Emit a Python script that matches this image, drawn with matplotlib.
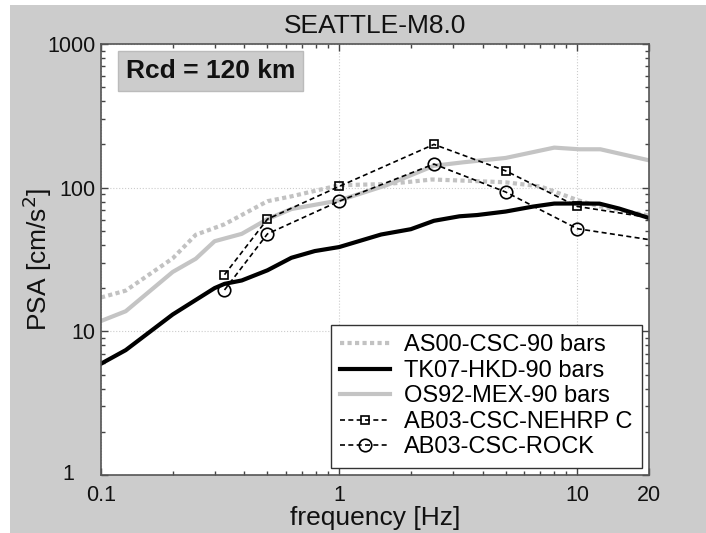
import matplotlib
matplotlib.use("Agg")
import matplotlib.pyplot as plt
from matplotlib.patches import Rectangle
from matplotlib.ticker import LogLocator, NullFormatter, FixedLocator, FixedFormatter

plt.rcParams['font.family'] = ['Liberation Sans', 'DejaVu Sans']

# AS00-CSC-90 bars (dotted light gray)
as00_f = [0.1, 0.127, 0.2, 0.25, 0.33, 0.5, 0.63, 1.0, 1.58, 2.0, 2.45, 3.3, 5.0, 7.0, 10.0, 12.0, 20.0]
as00_v = [17.2, 19.2, 32.2, 47.0, 55.6, 80.5, 87.0, 104, 106, 110, 114, 112, 109, 102, 82, 75, 64]

# TK07-HKD-90 bars (thick black)
tk07_f = [0.1, 0.127, 0.2, 0.3, 0.33, 0.39, 0.5, 0.63, 0.79, 1.0, 1.5, 2.0, 2.5, 3.2, 3.8, 5.0, 6.5, 8.0, 10.0, 12.4, 15.0, 20.0]
tk07_v = [5.95, 7.4, 13.1, 20.0, 21.4, 22.6, 26.6, 32.5, 36.2, 38.6, 47.2, 51.4, 58.8, 63.2, 64.5, 68.2, 73.8, 77.5, 77.6, 77.4, 71.5, 61.5]

# OS92-MEX-90 bars (solid light gray)
os92_f = [0.1, 0.127, 0.2, 0.25, 0.3, 0.39, 0.5, 0.63, 1.0, 1.58, 2.5, 3.3, 5.0, 8.0, 10.2, 12.5, 20.0]
os92_v = [11.8, 13.8, 25.9, 32.0, 42.4, 47.7, 60.4, 71.0, 81.5, 104, 142, 150, 161, 190, 185, 185, 155]

# AB03-CSC-NEHRP C (dashed, squares)
ab_nehrp_f = [0.33, 0.5, 1.0, 2.5, 5.0, 10.0, 20.0]
ab_nehrp_v = [24.8, 60.4, 102, 200, 131, 74, 62]

# AB03-CSC-ROCK (dashed, circles)
ab_rock_f = [0.33, 0.5, 1.0, 2.5, 5.0, 10.0, 20.0]
ab_rock_v = [19.4, 47.7, 80.5, 146, 93.3, 51.8, 43.5]

x_ticks = [0.1, 1, 10, 20]
x_tick_labels = ['0.1', '1', '10', '20']
y_ticks = [1, 10, 100, 1000]
y_tick_labels = ['1', '10', '100', '1000']

fig = plt.figure(figsize=(7.06, 5.33), dpi=100, facecolor='white')
# gray panel background with thin white border on the left/top
fig.patches.append(Rectangle((10 / 706, 0), 1, 528 / 533, transform=fig.transFigure,
                             facecolor='#cccccc', edgecolor='none', zorder=-10))

ax = fig.add_axes([101 / 706, 1 - 475 / 533, 548 / 706, 431 / 533])
ax.set_facecolor('white')

ax.plot(as00_f, as00_v, color='#c2c2c2', lw=3, ls=(0, (1, 0.8)), label='AS00-CSC-90 bars')
ax.plot(tk07_f, tk07_v, color='black', lw=3, label='TK07-HKD-90 bars')
ax.plot(os92_f, os92_v, color='#c4c4c4', lw=3, label='OS92-MEX-90 bars')
ax.plot(ab_nehrp_f, ab_nehrp_v, color='black', lw=1.2, ls=(0, (3, 2)), marker='s', ms=6,
        mfc='none', mec='black', mew=1.2, markevery=list(range(6)), label='AB03-CSC-NEHRP C')
ax.plot(ab_rock_f, ab_rock_v, color='black', lw=1.2, ls=(0, (3, 2)), marker='o', ms=9,
        mfc='none', mec='black', mew=1.2, markevery=list(range(6)), label='AB03-CSC-ROCK')

ax.set_xscale('log')
ax.set_yscale('log')
ax.set_xlim(0.1, 20)
ax.set_ylim(1, 1000)

# the lowest y label sits further left in the original, clear of "0.1"
ax.xaxis.set_major_locator(FixedLocator(x_ticks))
ax.xaxis.set_major_formatter(FixedFormatter(x_tick_labels))
ax.xaxis.set_minor_locator(LogLocator(base=10, subs=range(2, 10)))
ax.xaxis.set_minor_formatter(NullFormatter())
ax.yaxis.set_major_locator(FixedLocator(y_ticks))
ax.yaxis.set_major_formatter(FixedFormatter([''] + y_tick_labels[1:]))
ax.yaxis.set_minor_locator(LogLocator(base=10, subs=range(2, 10)))
ax.yaxis.set_minor_formatter(NullFormatter())
ax.annotate(y_tick_labels[0], xy=(0, y_ticks[0]), xycoords=('axes fraction', 'data'),
            xytext=(-19, 0), textcoords='offset points', ha='right', va='center',
            fontsize=15.5, color='#111111')

ax.tick_params(which='both', direction='in', top=True, right=True, colors='#444444',
               labelcolor='#111111', labelsize=15.5)
ax.tick_params(which='major', length=5, width=1)
ax.tick_params(which='minor', length=3, width=1)
ax.tick_params(axis='x', pad=7)
ax.tick_params(axis='y', pad=4)
for s in ax.spines.values():
    s.set_color('#555555')
    s.set_linewidth(1.2)

ax.grid(True, which='major', color='#cccccc', ls=':', lw=0.8)

ax.set_title('SEATTLE-M8.0', fontsize=19, color='#111111', pad=8)
ax.set_xlabel('frequency [Hz]', fontsize=19, color='#111111', labelpad=0)
ax.set_ylabel('PSA [cm/s$^2$]', fontsize=19, color='#111111', labelpad=-5)

ax.text(0.045, 0.965, 'Rcd = 120 km', transform=ax.transAxes, fontsize=19, fontweight='bold',
        color='#111111', va='top', ha='left',
        bbox=dict(boxstyle='square,pad=0.3', facecolor='#cccccc', edgecolor='#bbbbbb'))

leg = ax.legend(loc='lower right', fontsize=17, frameon=True, fancybox=False,
                edgecolor='#333333', framealpha=1, borderaxespad=0.3,
                handlelength=2.1, handletextpad=0.6, labelspacing=0.15, borderpad=0.4)
leg.get_frame().set_linewidth(1.0)

fig.savefig('out.png', dpi=100, facecolor=fig.get_facecolor())
